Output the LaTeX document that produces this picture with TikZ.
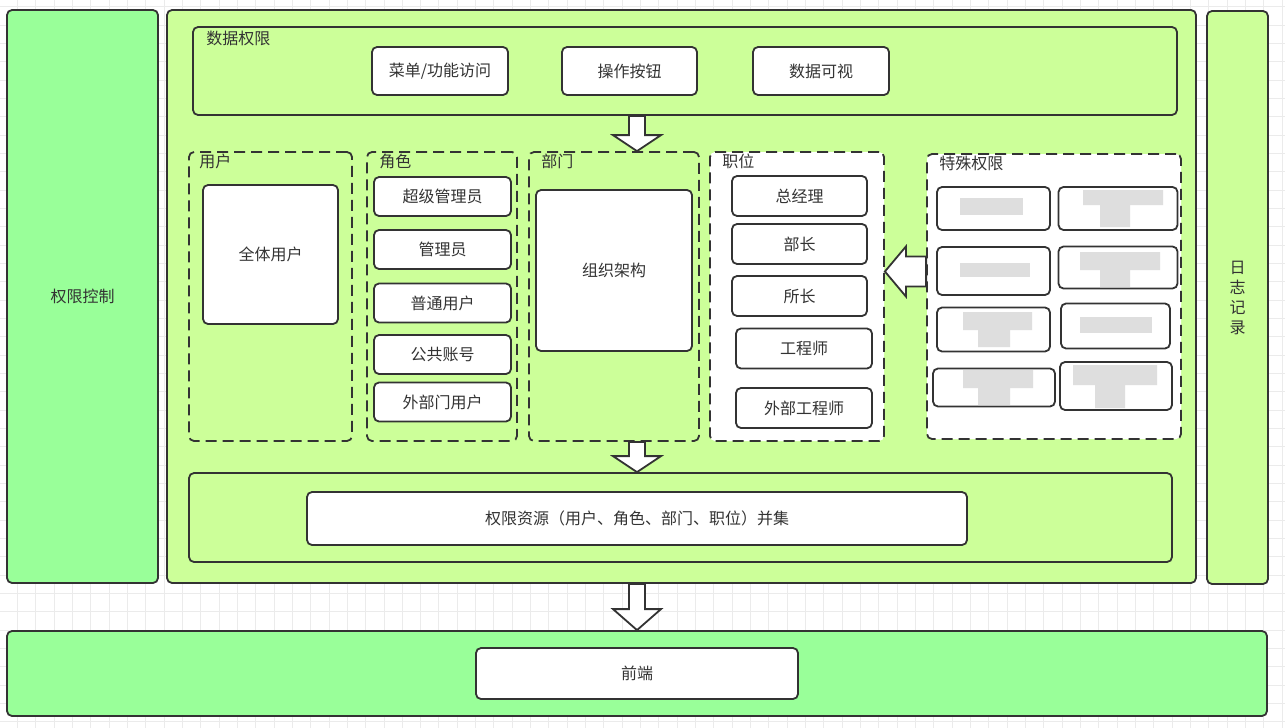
\documentclass[tikz,border=0pt]{standalone}
\usepackage{fontspec}
\setmainfont{Noto Sans CJK SC}
\usetikzlibrary{positioning, calc}
\definecolor{ink}{HTML}{333333}
\definecolor{panel}{HTML}{99FF99}
\definecolor{lime}{HTML}{CCFF99}
\definecolor{gridln}{HTML}{EBEBEB}
\definecolor{blur}{HTML}{DEDEDE}

\tikzset{
  box/.style={draw=ink, line width=1.8pt, rounded corners=5pt, fill=white,
              inner sep=0pt, text=ink},
  panelbox/.style={box, fill=panel},
  limebox/.style={box, fill=lime},
  grpbox/.style={draw=ink, line width=1.8pt, dash pattern=on 11pt off 6pt,
                 rounded corners=5pt, inner sep=0pt},
  grplabel/.style={anchor=west, inner sep=0pt, text=ink},
  fatdown/.style={draw=ink, fill=white, line width=1.8pt, line join=miter,
    to path={let \p1=(\tikztostart), \p2=(\tikztotarget) in
      (\x1-8pt,\y1) -- (\x1-8pt,\y2+#1) -- (\x1-24pt,\y2+#1) -- (\x1,\y2)
      -- (\x1+24pt,\y2+#1) -- (\x1+8pt,\y2+#1) -- (\x1+8pt,\y1) -- cycle}},
  fatleft/.style={draw=ink, fill=white, line width=1.8pt, line join=miter,
    to path={let \p1=(\tikztostart), \p2=(\tikztotarget) in
      (\x1,\y1+15pt) -- (\x2+21pt,\y1+15pt) -- (\x2+21pt,\y1+25pt) -- (\x2,\y1)
      -- (\x2+21pt,\y1-25pt) -- (\x2+21pt,\y1-15pt) -- (\x1,\y1-15pt) -- cycle}},
}

\begin{document}
\begin{tikzpicture}[x=1pt, y=-1pt, font=\fontsize{16}{20}\selectfont]
  \useasboundingbox (0,0) rectangle (1285,728);
  % Grid
  \fill[white] (0,0) rectangle (1285,728);
  \foreach \k in {0,...,69} \draw[gridln, line width=0.8pt] (17.3+18.33*\k,0) -- ++(0,728);
  \foreach \k in {0,...,39} \draw[gridln, line width=0.8pt] (0,6.7+18.33*\k) -- ++(1285,0);

  % Outer panels
  \node[panelbox, minimum width=151, minimum height=573] (ctrl) at (82.5,296.5) {权限控制};
  \node[limebox, minimum width=1029, minimum height=573] (main) at (681.5,296.5) {};
  \node[limebox, minimum width=61, minimum height=573, align=center] (log) at (1237.5,297.5) {日\\志\\记\\录};
  \node[panelbox, minimum width=1260, minimum height=85] (front) at (637,673.5) {};
  \node[box, minimum width=322, minimum height=51] (frontin) at (637,673.5) {前端};

  % Data permissions
  \node[limebox, minimum width=984, minimum height=88] (perm) at (685,71) {};
  \node[grplabel] (permlbl) at ($(perm.north west)+(14,12)$) {数据权限};
  \node[box, minimum width=136, minimum height=48] (menu) at (440,71) {菜单/功能访问};
  \node[box, minimum width=135, minimum height=48] (btn) at (629.5,71) {操作按钮};
  \node[box, minimum width=136, minimum height=48] (vis) at (821,71) {数据可视};

  % Users
  \node[grpbox, minimum width=163, minimum height=289] (usergrp) at (270.5,296.5) {};
  \node[grplabel] (userlbl) at ($(usergrp.north west)+(11,10.5)$) {用户};
  \node[box, minimum width=135, minimum height=139] (allusers) at (270.5,254.5) {全体用户};

  % Roles
  \node[grpbox, minimum width=150, minimum height=289] (rolegrp) at (442,296.5) {};
  \node[grplabel] (rolelbl) at ($(rolegrp.north west)+(13,10.5)$) {角色};
  \node[box, minimum width=137, minimum height=39] (role1) at (442.5,196.5) {超级管理员};
  \node[box, minimum width=137, minimum height=39] (role2) at (442.5,249.5) {管理员};
  \node[box, minimum width=137, minimum height=39] (role3) at (442.5,303) {普通用户};
  \node[box, minimum width=137, minimum height=39] (role4) at (442.5,354.5) {公共账号};
  \node[box, minimum width=137, minimum height=39] (role5) at (442.5,402) {外部门用户};

  % Departments
  \node[grpbox, minimum width=170, minimum height=289] (deptgrp) at (614,296.5) {};
  \node[grplabel] (deptlbl) at ($(deptgrp.north west)+(13,10.5)$) {部门};
  \node[box, minimum width=156, minimum height=161] (org) at (614,270.5) {组织架构};

  % Positions
  \node[grpbox, fill=white, minimum width=174, minimum height=289] (postgrp) at (797,296.5) {};
  \node[grplabel] (postlbl) at ($(postgrp.north west)+(13,10.5)$) {职位};
  \node[box, minimum width=135, minimum height=40] (post1) at (799.5,196) {总经理};
  \node[box, minimum width=135, minimum height=40] (post2) at (799.5,244) {部长};
  \node[box, minimum width=135, minimum height=40] (post3) at (799.5,296) {所长};
  \node[box, minimum width=136, minimum height=40] (post4) at (804,348.5) {工程师};
  \node[box, minimum width=136, minimum height=40] (post5) at (804,408) {外部工程师};

  % Special permissions
  \node[grpbox, fill=white, minimum width=254, minimum height=285] (spgrp) at (1054,296.5) {};
  \node[grplabel] (splbl) at ($(spgrp.north west)+(13,10.5)$) {特殊权限};
  \node[box, minimum width=113, minimum height=43] (sp1) at (993.5,208.5) {};
  \node[box, minimum width=119, minimum height=43] (sp2) at (1118,208.5) {};
  \node[box, minimum width=113, minimum height=48] (sp3) at (993.5,271) {};
  \node[box, minimum width=119, minimum height=42] (sp4) at (1118,267.5) {};
  \node[box, minimum width=113, minimum height=44] (sp5) at (993.5,329.5) {};
  \node[box, minimum width=109, minimum height=45] (sp6) at (1115.5,326) {};
  \node[box, minimum width=122, minimum height=38] (sp7) at (994,387.5) {};
  \node[box, minimum width=112, minimum height=48] (sp8) at (1116,386) {};
  % blurred texts
  \fill[blur] (960,198) rectangle (1023,215);
  \fill[blur] (1083,190) rectangle (1163,205) (1100,205) rectangle (1130,227);
  \fill[blur] (960,263) rectangle (1030,277);
  \fill[blur] (1080,252) rectangle (1160,270) (1100,270) rectangle (1130,287);
  \fill[blur] (963,312) rectangle (1032,330) (978,330) rectangle (1010,347);
  \fill[blur] (1080,317) rectangle (1152,333);
  \fill[blur] (963,370) rectangle (1033,388) (978,388) rectangle (1010,405);
  \fill[blur] (1073,365) rectangle (1157,385) (1095,385) rectangle (1125,408);

  % Union
  \node[limebox, minimum width=983, minimum height=89] (uniongrp) at (680.5,517.5) {};
  \node[box, minimum width=660, minimum height=53] (union) at (637,518.5) {权限资源（用户、角色、部门、职位）并集};

  % Arrows
  \draw[fatdown=16pt] (union.north |- perm.south) to (union.north |- postgrp.north);
  \draw[fatdown=16pt] (union.north |- postgrp.south) to (union.north |- uniongrp.north);
  \draw[fatdown=21pt] (union.north |- main.south) to (union.north |- front.north);
  \draw[fatleft] ($(spgrp.west)+(0,-25)$) to (postgrp.east);
\end{tikzpicture}
\end{document}
